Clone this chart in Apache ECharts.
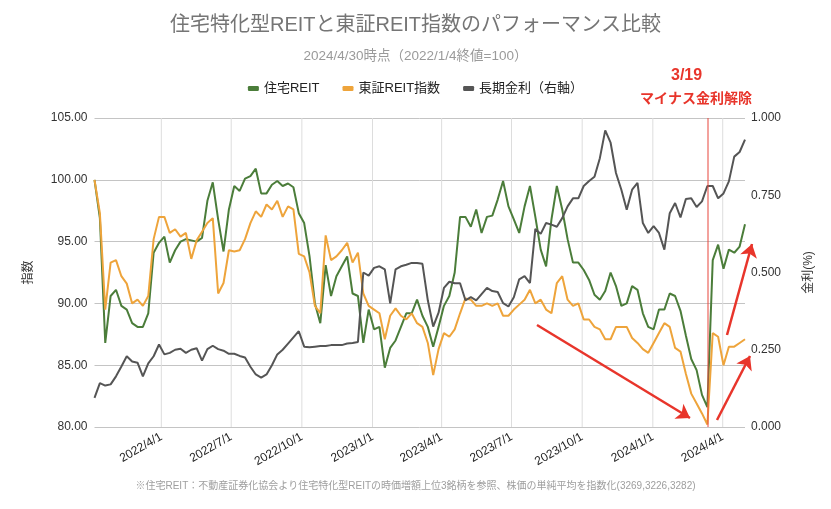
<!DOCTYPE html>
<html><head><meta charset="utf-8">
<script src="https://cdn.jsdelivr.net/npm/echarts@6/dist/echarts.min.js"></script>
<style>html,body{margin:0;padding:0;background:#fff}#c{width:831px;height:509px}</style>
</head><body><div id="c"></div>
<script>
// weekly sample dates (x positions on a date axis)
const dates = [
'2022-01-04','2022-01-11','2022-01-18','2022-01-25','2022-02-01','2022-02-08','2022-02-15','2022-02-22',
'2022-03-01','2022-03-08','2022-03-15','2022-03-22','2022-03-29','2022-04-05','2022-04-12','2022-04-19','2022-04-26',
'2022-05-03','2022-05-10','2022-05-17','2022-05-24','2022-05-31','2022-06-07','2022-06-14','2022-06-21','2022-06-28',
'2022-07-05','2022-07-12','2022-07-19','2022-07-26','2022-08-02','2022-08-09','2022-08-16','2022-08-23','2022-08-30',
'2022-09-06','2022-09-13','2022-09-20','2022-09-27','2022-10-04','2022-10-11','2022-10-18','2022-10-25',
'2022-11-01','2022-11-08','2022-11-15','2022-11-22','2022-11-29','2022-12-06','2022-12-13','2022-12-20','2022-12-27',
'2023-01-03','2023-01-10','2023-01-17','2023-01-24','2023-01-31','2023-02-07','2023-02-14','2023-02-21','2023-02-28',
'2023-03-07','2023-03-14','2023-03-21','2023-03-28','2023-04-04','2023-04-11','2023-04-18','2023-04-25',
'2023-05-02','2023-05-09','2023-05-16','2023-05-23','2023-05-30','2023-06-06','2023-06-13','2023-06-20','2023-06-27',
'2023-07-04','2023-07-11','2023-07-18','2023-07-25','2023-08-01','2023-08-08','2023-08-15','2023-08-22','2023-08-29',
'2023-09-05','2023-09-12','2023-09-19','2023-09-26','2023-10-03','2023-10-10','2023-10-17','2023-10-24','2023-10-31',
'2023-11-07','2023-11-14','2023-11-21','2023-11-28','2023-12-05','2023-12-12','2023-12-19','2023-12-26',
'2024-01-02','2024-01-09','2024-01-16','2024-01-23','2024-01-30','2024-02-06','2024-02-13','2024-02-20','2024-02-27',
'2024-03-05','2024-03-12','2024-03-19','2024-03-26','2024-04-02','2024-04-09','2024-04-16','2024-04-23','2024-04-30'
];
// 住宅REIT
const jutakuReit = [
100.0,96.9,86.8,90.6,91.1,89.8,89.5,88.4,88.1,88.1,89.2,94.1,94.9,95.4,93.3,94.3,95.0,95.2,95.1,95.0,
95.3,98.3,99.8,96.8,94.2,97.6,99.5,99.1,100.1,100.3,100.9,98.9,98.9,99.6,99.9,99.5,99.7,99.4,97.3,96.5,
93.8,90.0,88.4,93.1,90.6,92.2,93.0,93.8,90.8,90.6,86.8,89.5,87.9,88.1,84.8,86.4,87.0,88.1,89.2,89.2,
90.3,89.0,88.1,86.5,88.1,89.8,90.6,92.5,97.0,97.0,96.2,97.6,95.7,97.0,97.1,98.4,99.9,97.85,96.8,95.7,
97.85,99.5,97.0,94.35,93.0,96.8,99.5,97.6,95.2,93.3,93.3,92.7,91.9,90.7,90.3,91.0,92.5,91.4,89.8,90.0,
91.4,91.1,89.2,88.1,87.9,89.5,89.5,90.8,90.6,89.4,87.4,85.5,84.6,82.6,81.6,93.5,94.75,92.8,94.35,94.1,
94.6,96.4
];
// 東証REIT指数
const tseReit = [
100.0,97.3,89.5,93.3,93.5,92.2,91.6,90.0,90.3,89.8,90.6,95.2,97.0,97.0,95.7,96.0,95.4,95.7,93.6,95.1,
95.8,96.5,96.9,90.8,91.65,94.3,94.2,94.3,95.2,96.5,97.45,97.0,98.0,97.6,98.3,97.0,97.85,97.6,94.0,93.8,
92.5,89.8,89.2,95.5,93.5,93.8,94.3,94.9,93.3,94.1,90.8,89.8,89.5,89.2,87.1,89.0,89.6,89.0,88.7,89.2,
88.4,88.1,86.8,84.2,86.3,87.6,87.3,87.9,89.2,90.4,90.3,89.8,89.8,90.0,89.8,90.0,89.0,89.0,89.5,89.9,
90.3,91.1,90.0,90.3,89.5,89.2,91.65,92.2,90.3,89.8,90.0,88.7,88.7,88.1,87.9,87.1,87.1,88.1,88.1,88.1,
87.2,86.8,86.3,86.0,86.8,87.6,88.4,88.1,86.4,86.1,84.3,82.7,81.9,81.1,80.2,87.6,87.3,85.0,86.5,86.5,
86.8,87.1
];
// 長期金利（右軸, %）
const longRate = [
0.094,0.142,0.134,0.138,0.164,0.196,0.229,0.212,0.208,0.164,0.206,0.229,0.267,0.235,0.24,0.25,0.253,0.24,0.25,0.255,
0.215,0.252,0.263,0.252,0.247,0.237,0.237,0.23,0.225,0.195,0.17,0.16,0.17,0.2,0.235,0.25,0.27,0.29,0.31,0.26,
0.258,0.26,0.262,0.262,0.265,0.265,0.265,0.27,0.272,0.275,0.5,0.49,0.515,0.52,0.51,0.40,0.51,0.52,0.525,0.531,
0.531,0.528,0.41,0.325,0.37,0.45,0.47,0.465,0.465,0.41,0.42,0.41,0.43,0.45,0.44,0.437,0.401,0.39,0.42,0.478,
0.488,0.466,0.641,0.625,0.66,0.655,0.648,0.676,0.714,0.74,0.74,0.78,0.796,0.81,0.87,0.96,0.92,0.822,0.768,0.703,
0.768,0.79,0.66,0.628,0.65,0.628,0.574,0.692,0.725,0.678,0.738,0.74,0.712,0.73,0.78,0.78,0.74,0.756,0.795,0.875,
0.89,0.93
];
const quarterTicks = ['2022-04-01','2022-07-01','2022-10-01','2023-01-01','2023-04-01','2023-07-01','2023-10-01','2024-01-01','2024-04-01'];
const leftTicks = [80,85,90,95,100,105];
const rightTicks = [0,0.25,0.5,0.75,1.0];
const seriesNames = ['住宅REIT','東証REIT指数','長期金利（右軸）'];
const eventDate = '2024-03-13';

const ts = s => { const p = s.split('-').map(Number); return new Date(p[0], p[1]-1, p[2]).getTime(); };
const FONT = "'Liberation Sans','Noto Sans CJK JP',sans-serif";
const RED = '#e8352b';

// vertical quarter gridlines as thin line series through the axis scales
const gridSeries = quarterTicks.map((d,i)=>({
  type:'line', name:'vgrid'+i, yAxisIndex:0, showSymbol:false, silent:true, z:1,
  lineStyle:{width:1, color:'#dddddd'}, itemStyle:{color:'#dddddd'},
  emphasis:{disabled:true}, tooltip:{show:false},
  data:[[ts(d), leftTicks[0]],[ts(d), leftTicks[leftTicks.length-1]]]
}));

const chart = echarts.init(document.getElementById('c'), null, {renderer:'canvas'});
chart.setOption({
  animation:false,
  textStyle:{fontFamily:FONT},
  title:[
    {text:'住宅特化型REITと東証REIT指数のパフォーマンス比較', left:'center', top:10,
     textStyle:{fontSize:20, fontWeight:'normal', color:'#757575', fontFamily:FONT}},
    {text:'2024/4/30時点（2022/1/4終値=100）', left:'center', top:45,
     textStyle:{fontSize:13.5, fontWeight:'normal', color:'#9a9a9a', fontFamily:FONT}}
  ],
  legend:{data:seriesNames, top:77, left:'center', icon:'roundRect', itemWidth:11, itemHeight:5, itemGap:23,
    textStyle:{fontSize:13, color:'#222', fontFamily:FONT}},
  grid:{left:94.5, right:86, top:118, bottom:82},
  xAxis:{type:'value', min:ts(dates[0]), max:ts(dates[dates.length-1]),
    axisLine:{show:false}, axisTick:{show:false}, splitLine:{show:false},
    axisLabel:{customValues:quarterTicks.map(ts), rotate:30, margin:9, fontSize:12, color:'#222', fontFamily:FONT,
      formatter:v=>{const d=new Date(v);return d.getFullYear()+'/'+(d.getMonth()+1)+'/'+d.getDate();}}
  },
  yAxis:[
    {type:'value', min:leftTicks[0], max:leftTicks[leftTicks.length-1], interval:leftTicks[1]-leftTicks[0],
     name:'指数', nameLocation:'middle', nameRotate:90, nameGap:60, nameTextStyle:{fontSize:12,color:'#333'},
     axisLine:{show:false}, axisTick:{show:false},
     axisLabel:{formatter:v=>v.toFixed(2), fontSize:12, color:'#333', margin:7},
     splitLine:{lineStyle:{color:'#c4c4c4', width:1}}},
    {type:'value', min:rightTicks[0], max:rightTicks[rightTicks.length-1], interval:rightTicks[1]-rightTicks[0],
     name:'金利(%)', nameLocation:'middle', nameRotate:90, nameGap:58, nameTextStyle:{fontSize:12,color:'#333'},
     axisLine:{show:false}, axisTick:{show:false},
     axisLabel:{formatter:v=>v.toFixed(3), fontSize:12, color:'#333', margin:6},
     splitLine:{show:false}}
  ],
  series:gridSeries.concat([
    {type:'line', name:seriesNames[0], yAxisIndex:0, showSymbol:false, z:3,
     lineStyle:{width:2, color:'#4b7d3a'}, itemStyle:{color:'#4b7d3a'},
     data:dates.map((d,i)=>[ts(d), jutakuReit[i]]),
     markLine:{silent:true, symbol:'none', label:{show:false}, animation:false, z:6,
       lineStyle:{color:'rgba(232,70,60,0.5)', width:2, type:'solid'},
       data:[{xAxis:ts(eventDate)}]}},
    {type:'line', name:seriesNames[1], yAxisIndex:0, showSymbol:false, z:3,
     lineStyle:{width:2, color:'#eea43b'}, itemStyle:{color:'#eea43b'},
     data:dates.map((d,i)=>[ts(d), tseReit[i]])},
    {type:'line', name:seriesNames[2], yAxisIndex:1, showSymbol:false, z:4,
     lineStyle:{width:2, color:'#555555'}, itemStyle:{color:'#555555'},
     data:dates.map((d,i)=>[ts(d), longRate[i]]),
     markLine:{silent:true, symbol:['none','arrow'], symbolSize:[13,13], label:{show:false}, animation:false, z:7,
       lineStyle:{color:RED, width:2.5, type:'solid'},
       data:[
         [{x:537,y:325},{x:690,y:418}],
         [{x:717,y:420},{x:750,y:356}],
         [{x:727,y:335},{x:752,y:244}]
       ]}}
  ]),
  graphic:[
    {type:'text', left:671, top:68, style:{text:'3/19', fill:RED, font:"bold 16px "+FONT}},
    {type:'text', left:640, top:92, style:{text:'マイナス金利解除', fill:RED, font:"bold 14px "+FONT}},
    {type:'text', left:'center', top:481, style:{text:'※住宅REIT：不動産証券化協会より住宅特化型REITの時価増額上位3銘柄を参照、株価の単純平均を指数化(3269,3226,3282)', fill:'#9e9e9e', font:"10px "+FONT}}
  ]
});
</script></body></html>
